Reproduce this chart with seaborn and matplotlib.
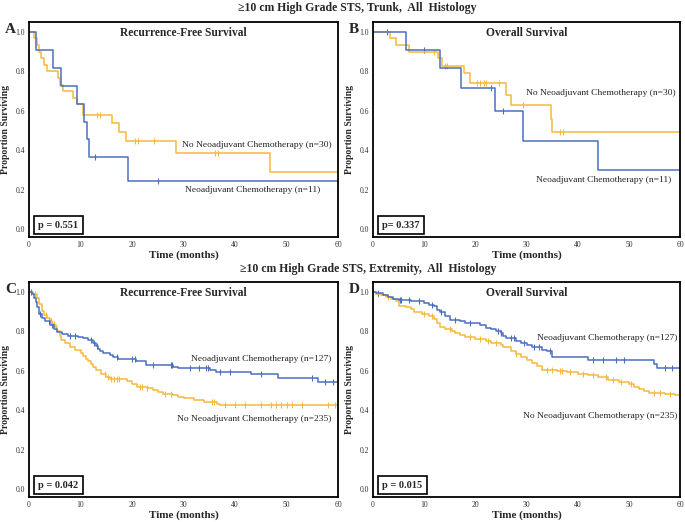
import numpy as np
import pandas as pd
import seaborn as sns
import matplotlib.pyplot as plt

sns.set_style("white")
plt.rcParams['font.family'] = ['Liberation Serif', 'DejaVu Serif']

BLEU = "#4a6fc0"
ORANGE = "#f6b93e"

# A - Tronc, survie sans recidive
a_neo_t = [0, 1.4, 4.7, 6.3, 9.3, 10.7, 11.3, 11.6, 19.2]
a_neo_s = [1.0, 0.909, 0.818, 0.727, 0.636, 0.545, 0.455, 0.364, 0.245]
a_neo_c = [12.9, 25.0]
a_no_t = [0, 1.0, 1.6, 1.9, 2.4, 2.9, 3.4, 5.6, 6.0, 6.6, 8.5, 9.3, 10.5, 16.1, 17.5, 18.9, 28.5, 46.7]
a_no_s = [1.0, 0.967, 0.933, 0.90, 0.867, 0.833, 0.80, 0.767, 0.733, 0.70, 0.667, 0.633, 0.58, 0.537, 0.49, 0.447, 0.386, 0.29]
a_no_c = [13.3, 13.7, 20.5, 21.2, 24.3, 36.2, 36.7]

# B - Tronc, survie globale
b_neo_t = [0, 6.4, 13.1, 17.2, 23.9, 29.3, 43.9]
b_neo_s = [1.0, 0.909, 0.818, 0.716, 0.597, 0.448, 0.298]
b_neo_c = [2.8, 9.9, 23.0, 25.4]
b_no_t = [0, 3.4, 4.4, 7.0, 12.7, 13.5, 17.8, 18.9, 25.9, 26.9, 34.7, 35.0]
b_no_s = [1.0, 0.967, 0.933, 0.90, 0.867, 0.828, 0.79, 0.742, 0.68, 0.628, 0.56, 0.49]
b_no_c = [11.9, 14.0, 14.4, 20.3, 21.0, 21.6, 22.1, 24.6, 29.3, 36.6, 37.1]

# C - Extremite, survie sans recidive
c_neo_t = [0, 0.5, 1.0, 1.3, 1.6, 2.0, 2.5, 3.2, 4.0, 4.8, 5.5, 6.5, 7.5, 9.5, 10.5, 11.5,
           12.4, 13.0, 13.4, 13.7, 14.4, 15.7, 16.3, 17.3, 20.8, 22.8, 28.0, 28.9, 35.1,
           36.4, 43.2, 48.3, 56.1]
c_neo_s = [1.0, 0.99, 0.97, 0.95, 0.924, 0.89, 0.866, 0.85, 0.83, 0.81, 0.795, 0.785, 0.777,
           0.772, 0.765, 0.755, 0.74, 0.728, 0.712, 0.70, 0.69, 0.68, 0.67, 0.66, 0.652,
           0.627, 0.617, 0.612, 0.603, 0.594, 0.584, 0.565, 0.545]
c_neo_c = [0.4, 2.2, 3.8, 4.5, 8.0, 9.0, 12.0, 12.6, 13.2, 17.0, 20.0, 20.5, 24.0, 27.5, 27.8,
           31.2, 33.1, 34.4, 34.8, 37.0, 39.0, 45.0, 55.0, 57.5, 59.0]
c_no_t = [0, 0.8, 1.5, 2.0, 2.5, 3.0, 3.5, 4.0, 4.5, 5.0, 5.5, 6.0, 6.2, 7.0, 8.0, 9.0, 10.0,
          10.5, 11.0, 11.5, 12.0, 12.5, 13.0, 14.0, 15.0, 15.8, 19.0, 20.0, 21.0, 23.0, 24.0,
          25.0, 26.0, 28.0, 29.0, 30.0, 32.0, 34.0, 36.5, 37.0]
c_no_s = [1.0, 0.99, 0.97, 0.94, 0.905, 0.885, 0.868, 0.852, 0.838, 0.82, 0.80, 0.778, 0.755,
          0.742, 0.72, 0.703, 0.69, 0.675, 0.662, 0.65, 0.636, 0.62, 0.604, 0.585, 0.57,
          0.558, 0.547, 0.535, 0.52, 0.512, 0.503, 0.493, 0.483, 0.476, 0.468, 0.46, 0.45,
          0.44, 0.432, 0.425]
c_no_c = [1.2, 3.3, 4.2, 4.8, 5.2, 14.8, 15.3, 16.0, 16.5, 17.0, 17.5, 21.5, 22.0, 23.0, 26.5,
          27.5, 35.5, 36.0, 38.0, 40.0, 42.0, 45.0, 47.0, 48.0, 49.0, 50.0, 51.0, 53.0,
          58.0, 59.5]

# D - Extremite, survie globale
d_neo_t = [0, 0.5, 2.0, 3.0, 4.0, 5.0, 7.5, 10.0, 11.0, 12.0, 12.5, 13.0, 14.0, 15.0, 17.0,
           18.0, 21.0, 22.0, 23.0, 24.0, 25.0, 25.5, 26.0, 28.0, 29.0, 30.0, 31.0, 33.0, 34.0,
           35.0, 42.0, 55.0, 55.5]
d_neo_s = [1.0, 0.993, 0.986, 0.975, 0.965, 0.958, 0.952, 0.945, 0.935, 0.927, 0.91, 0.897,
           0.877, 0.858, 0.85, 0.84, 0.83, 0.818, 0.81, 0.80, 0.79, 0.778, 0.765, 0.752,
           0.74, 0.73, 0.72, 0.707, 0.70, 0.67, 0.654, 0.635, 0.615]
d_neo_c = [1.0, 5.2, 5.5, 7.0, 9.0, 11.5, 13.2, 16.0, 19.0, 24.5, 25.0, 27.0, 27.6, 29.5,
           31.5, 32.5, 34.5, 43.0, 45.0, 47.5, 49.0, 57.0, 58.5]
d_no_t = [0, 0.5, 1.5, 2.5, 3.5, 4.5, 5.0, 6.5, 7.5, 8.0, 9.5, 11.0, 12.0, 12.5, 13.0, 14.0,
          15.5, 16.0, 17.0, 18.0, 20.0, 22.0, 23.0, 25.0, 25.5, 27.0, 28.0, 29.0, 30.0, 31.0,
          32.0, 33.0, 36.0, 38.0, 40.0, 42.0, 44.0, 46.0, 48.0, 50.0, 51.0, 52.0, 53.0, 54.0,
          57.0, 59.0]
d_no_s = [1.0, 0.99, 0.983, 0.975, 0.963, 0.952, 0.93, 0.922, 0.915, 0.90, 0.89, 0.88, 0.863,
          0.84, 0.82, 0.81, 0.80, 0.79, 0.78, 0.77, 0.762, 0.752, 0.742, 0.732, 0.72, 0.70,
          0.685, 0.67, 0.655, 0.64, 0.622, 0.605, 0.598, 0.592, 0.585, 0.577, 0.566, 0.555,
          0.545, 0.532, 0.52, 0.51, 0.497, 0.485, 0.48, 0.475]
d_no_c = [1.0, 3.0, 10.0, 11.5, 15.0, 19.0, 21.0, 22.5, 24.0, 28.0, 34.0, 35.0, 36.5, 37.0,
          38.5, 41.0, 43.0, 45.5, 47.0, 48.5, 50.5, 55.0, 56.0, 58.0]

panels = [
    ("A", "Recurrence-Free Survival", "p = 0.551",
     (a_neo_t, a_neo_s, a_neo_c), (a_no_t, a_no_s, a_no_c),
     [(58.8, 0.425, "No Neoadjuvant Chemotherapy (n=30)"), (56.6, 0.196, "Neoadjuvant Chemotherapy (n=11)")]),
    ("B", "Overall Survival", "p= 0.337",
     (b_neo_t, b_neo_s, b_neo_c), (b_no_t, b_no_s, b_no_c),
     [(59.2, 0.69, "No Neoadjuvant Chemotherapy (n=30)"), (58.2, 0.247, "Neoadjuvant Chemotherapy (n=11)")]),
    ("C", "Recurrence-Free Survival", "p = 0.042",
     (c_neo_t, c_neo_s, c_neo_c), (c_no_t, c_no_s, c_no_c),
     [(58.8, 0.66, "Neoadjuvant Chemotherapy (n=127)"), (58.8, 0.356, "No Neoadjuvant Chemotherapy (n=235)")]),
    ("D", "Overall Survival", "p = 0.015",
     (d_neo_t, d_neo_s, d_neo_c), (d_no_t, d_no_s, d_no_c),
     [(59.5, 0.764, "Neoadjuvant Chemotherapy (n=127)"), (59.5, 0.372, "No Neoadjuvant Chemotherapy (n=235)")]),
]

fig = plt.figure(figsize=(6.85, 5.22), dpi=100)
W, H = 685, 522
boites = [(29, 22, 338, 237), (373, 22, 680, 237), (29, 282, 338, 497), (373, 282, 680, 497)]


def courbe(ax, t, s, c, couleur):
    t = list(t) + [60]
    s = list(s) + [s[-1]]
    df = pd.DataFrame({"t": t, "s": s})
    sns.lineplot(data=df, x="t", y="s", ax=ax, color=couleur, lw=1.1,
                 drawstyle="steps-post", estimator=None, sort=False)
    tc = np.array(c)
    idx = np.searchsorted(np.array(t), tc, side="right") - 1
    sc = np.array(s)[idx]
    sns.scatterplot(x=tc, y=sc, ax=ax, marker="|", color=couleur, s=18, linewidth=0.8)


for (lettre, titre, pval, neo, no, textes), (x0, y0, x1, y1) in zip(panels, boites):
    ax = fig.add_axes([x0 / W, 1 - y1 / H, (x1 - x0) / W, (y1 - y0) / H])
    courbe(ax, *no, ORANGE)
    courbe(ax, *neo, BLEU)
    ax.set_xlim(0, 60)
    ax.set_ylim(-0.04, 1.05)
    ax.set_xticks(range(0, 61, 10))
    ax.set_yticks(np.arange(0, 1.01, 0.2))
    ax.set_yticklabels([f"{v:.1f}" for v in np.arange(0, 1.01, 0.2)])
    ax.tick_params(labelsize=5.5, length=0, pad=3, colors="#333333")
    ax.set_xlabel("Time (months)", fontsize=8, fontweight="bold", labelpad=1)
    ax.set_ylabel("Proportion Surviving", fontsize=7, fontweight="bold", labelpad=4)
    for sp in ax.spines.values():
        sp.set_linewidth(1.3)
        sp.set_color("black")
    ax.set_title(titre, fontsize=8.3, fontweight="bold", y=0.935, pad=0)
    for tx, ty, lab in textes:
        ax.text(tx, ty, lab, ha="right", va="center", fontsize=6.8, color="#222222")
    ax.text(1.8, 0.02, pval, fontsize=7.5, fontweight="bold", va="center", ha="left",
            bbox=dict(boxstyle="square,pad=0.42", fc="white", ec="black", lw=1.2))
    fig.text((x0 - 24) / W, 1 - (y0 + 1) / H, lettre, fontsize=11, fontweight="bold", va="top")

fig.text(238 / W, 1 - 8 / H, "≥10 cm High Grade STS, Trunk,  All  Histology",
         fontsize=8.5, fontweight="bold", va="center")
fig.text(240 / W, 1 - 269 / H, "≥10 cm High Grade STS, Extremity,  All  Histology",
         fontsize=8.5, fontweight="bold", va="center")

fig.savefig("out.png", dpi=100)
